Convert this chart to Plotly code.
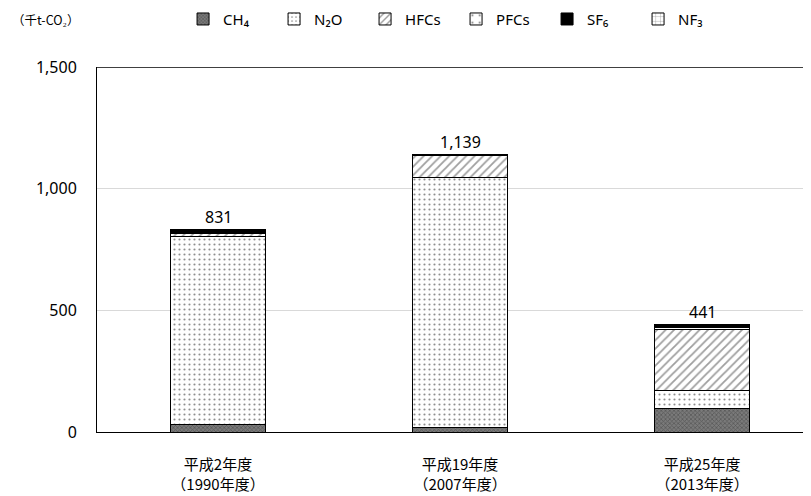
import plotly.graph_objects as go

categories = ["平成2年度<br>（1990年度）", "平成19年度<br>（2007年度）", "平成25年度<br>（2013年度）"]
gases = ["CH₄", "N₂O", "HFCs", "PFCs", "SF₆", "NF₃"]
ch4 = [32, 20, 97]
n2o = [773, 1027, 72]
hfcs = [12, 88, 254]
pfcs = [3, 1, 6]
sf6 = [11, 3, 8]
nf3 = [0, 0, 4]
totals = [831, 1139, 441]
total_labels = ["831", "1,139", "441"]

series = [ch4, n2o, hfcs, pfcs, sf6, nf3]
styles = [
    dict(color="#7a7a7a", pattern=dict(shape="x", fgcolor="#303030", size=3, solidity=0.4)),
    dict(color="white", pattern=dict(shape=".", fgcolor="#202020", size=5, solidity=0.15)),
    dict(color="white", pattern=dict(shape="/", fgcolor="#404040", size=6, solidity=0.3)),
    dict(color="white", pattern=dict(shape=".", fgcolor="#303030", size=9, solidity=0.08)),
    dict(color="black", pattern=dict(shape="")),
    dict(color="white", pattern=dict(shape="+", fgcolor="#303030", size=6, solidity=0.15)),
]

FONT = "Noto Sans CJK JP"
NUMFONT = "Noto Sans"
fig = go.Figure()
for name, vals, st in zip(gases, series, styles):
    fig.add_trace(go.Bar(
        x=categories, y=vals, name=name, width=0.39,
        marker=dict(color=st["color"], pattern=st["pattern"],
                    line=dict(color="black", width=1)),
    ))

annotations = [dict(text="（千t-CO₂）", xref="paper", yref="paper", x=-0.122, y=1.1315,
                    xanchor="left", yanchor="middle", showarrow=False,
                    font=dict(size=12.5, family=FONT))]
for c, t, lab in zip(categories, totals, total_labels):
    annotations.append(dict(x=c, y=t, text=lab, xref="x", yref="y", showarrow=False,
                            yanchor="bottom", yshift=0,
                            font=dict(size=16, family=NUMFONT, color="black")))

fig.update_layout(
    width=803, height=488,
    barmode="stack",
    paper_bgcolor="white", plot_bgcolor="white",
    margin=dict(l=89, r=0, t=59, b=64, autoexpand=False),
    font=dict(family=FONT, color="black"),
    legend=dict(orientation="h", xref="container", yref="container",
                x=0.218, y=0.977, xanchor="left", yanchor="middle",
                font=dict(size=15, family=NUMFONT), traceorder="normal",
                itemwidth=30, entrywidth=46, entrywidthmode="pixels"),
    xaxis=dict(range=[-0.5, 2.45], showline=True, linecolor="black", linewidth=1,
               ticks="", tickfont=dict(size=15, family=FONT), showgrid=False,
               automargin=False, ticklabelstandoff=19),
    yaxis=dict(range=[0, 1500], dtick=500, tickformat=",", showline=True,
               linecolor="black", linewidth=1, showgrid=True, gridcolor="#d9d9d9",
               tickfont=dict(size=16, family=NUMFONT), ticks="", zeroline=False,
               automargin=False, ticklabelstandoff=16),
    shapes=[dict(type="line", xref="paper", yref="y", x0=0, x1=1, y0=1500, y1=1500,
                 line=dict(color="black", width=1.5))],
    annotations=annotations,
)

fig.write_html("out.html")
